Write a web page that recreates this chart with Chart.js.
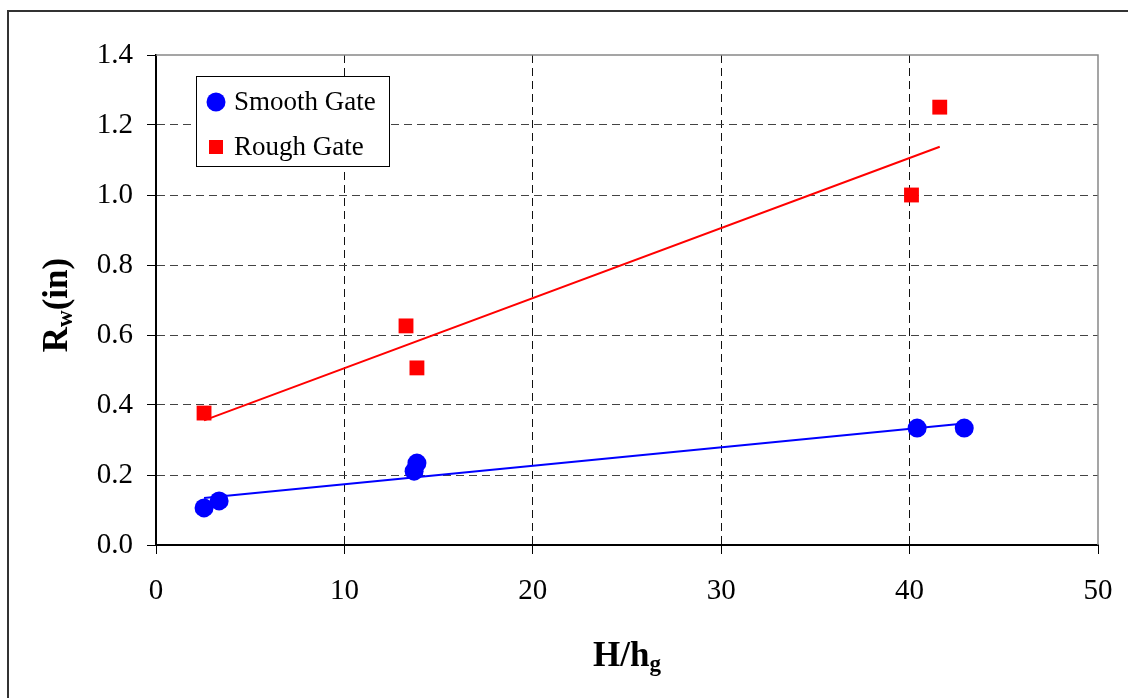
<!DOCTYPE html>
<html>
<head>
<meta charset="utf-8">
<script src="https://cdn.jsdelivr.net/npm/chart.js@4.4.1/dist/chart.umd.min.js"></script>
<style>
  html, body { margin: 0; padding: 0; background: #fff; }
  #wrap { width: 1128px; height: 698px; }
</style>
</head>
<body>
<div id="wrap"><canvas id="chart" width="1128" height="698"></canvas></div>
<script>
// Smooth gate measurements (H/hg, Rw in inches)
const smoothX = [2.55, 3.35, 13.7, 13.85, 40.4, 42.9];
const smoothY = [0.106, 0.126, 0.211, 0.234, 0.334, 0.334];

// Rough gate measurements
const roughX = [2.55, 13.27, 13.85, 40.1, 41.6];
const roughY = [0.377, 0.626, 0.506, 1.0, 1.251];

// Linear trend lines (end points)
const smoothTrendX = [2.55, 42.9];
const smoothTrendY = [0.134, 0.347];
const roughTrendX = [2.55, 41.6];
const roughTrendY = [0.356, 1.138];

// Axis ticks
const xTicks = [0, 10, 20, 30, 40, 50];
const yTicks = [0.0, 0.2, 0.4, 0.6, 0.8, 1.0, 1.2, 1.4];

const legendItems = [
    { label: 'Smooth Gate', color: '#0000ff', shape: 'circle' },
    { label: 'Rough Gate', color: '#ff0000', shape: 'square' }
];

const SERIF = '"Liberation Serif", "Times New Roman", serif';

function toPoints(xs, ys) {
    return xs.map((x, i) => ({ x: x, y: ys[i] }));
}

// outer frame + plot area border (top/right in grey)
const framePlugin = {
    id: 'frame',
    beforeDraw(chart) {
        const ctx = chart.ctx;
        ctx.save();
        ctx.fillStyle = '#fff';
        ctx.fillRect(0, 0, chart.width, chart.height);
        ctx.strokeStyle = '#333';
        ctx.lineWidth = 2;
        ctx.strokeRect(8, 11, chart.width + 20, chart.height + 20);
        ctx.restore();
    },
    beforeDatasetsDraw(chart) {
        const { ctx, chartArea: a } = chart;
        ctx.save();
        ctx.strokeStyle = '#888';
        ctx.lineWidth = 1.5;
        ctx.beginPath();
        ctx.moveTo(a.left, a.top);
        ctx.lineTo(a.right, a.top);
        ctx.lineTo(a.right, a.bottom);
        ctx.stroke();
        ctx.restore();
    }
};

// axis titles with subscripts and the boxed legend
const labelPlugin = {
    id: 'labels',
    afterDraw(chart) {
        const { ctx, chartArea: a } = chart;
        ctx.save();
        ctx.fillStyle = '#000';
        ctx.textBaseline = 'alphabetic';
        ctx.textAlign = 'left';

        const big = 'bold 35px ' + SERIF;
        const small = 'bold 23px ' + SERIF;

        // x title: H/h with subscript g
        ctx.font = big;
        const w1 = ctx.measureText('H/h').width;
        ctx.font = small;
        const w2 = ctx.measureText('g').width;
        let x0 = (a.left + a.right) / 2 - (w1 + w2) / 2;
        ctx.font = big;
        ctx.fillText('H/h', x0, 666);
        ctx.font = small;
        ctx.fillText('g', x0 + w1, 671);

        // y title: R with subscript w, then (in)
        ctx.save();
        ctx.translate(67, 305);
        ctx.rotate(-Math.PI / 2);
        ctx.font = big;
        const r = ctx.measureText('R').width;
        const tail = ctx.measureText('(in)').width;
        ctx.font = small;
        const sw = ctx.measureText('w').width;
        const total = r + sw + tail;
        let t = -total / 2;
        ctx.font = big;
        ctx.fillText('R', t, 0);
        ctx.font = small;
        ctx.fillText('w', t + r, 5);
        ctx.font = big;
        ctx.fillText('(in)', t + r + sw, 0);
        ctx.restore();

        // legend
        const lx = 196, ly = 76, lw = 193, lh = 90;
        ctx.fillStyle = '#fff';
        ctx.fillRect(lx, ly, lw, lh);
        ctx.strokeStyle = '#000';
        ctx.lineWidth = 1;
        ctx.strokeRect(lx + 0.5, ly + 0.5, lw, lh);
        ctx.font = '27px ' + SERIF;
        ctx.textBaseline = 'middle';
        legendItems.forEach((item, i) => {
            const cy = 102 + i * 45;
            ctx.fillStyle = item.color;
            if (item.shape === 'circle') {
                ctx.beginPath();
                ctx.arc(216, cy, 9.5, 0, Math.PI * 2);
                ctx.fill();
            } else {
                ctx.fillRect(209, cy - 7, 14, 14);
            }
            ctx.fillStyle = '#000';
            ctx.fillText(item.label, 234, cy + 1);
        });
        ctx.restore();
    }
};

const ctx = document.getElementById('chart');
new Chart(ctx, {
    type: 'scatter',
    data: {
        datasets: [
            {
                label: 'Smooth Gate',
                data: toPoints(smoothX, smoothY),
                pointStyle: 'circle',
                pointRadius: 9.5,
                backgroundColor: '#0000ff',
                borderColor: '#0000ff',
                borderWidth: 0
            },
            {
                label: 'Rough Gate',
                data: toPoints(roughX, roughY),
                pointStyle: 'rect',
                pointRadius: 10.5,
                backgroundColor: '#ff0000',
                borderColor: '#ff0000',
                borderWidth: 0
            },
            {
                label: 'Smooth trend',
                data: toPoints(smoothTrendX, smoothTrendY),
                showLine: true,
                pointRadius: 0,
                borderColor: '#0000ff',
                borderWidth: 2
            },
            {
                label: 'Rough trend',
                data: toPoints(roughTrendX, roughTrendY),
                showLine: true,
                pointRadius: 0,
                borderColor: '#ff0000',
                borderWidth: 2
            }
        ]
    },
    options: {
        responsive: false,
        animation: false,
        events: [],
        layout: {
            padding: { left: 0, top: 55, right: 30, bottom: 0 }
        },
        plugins: {
            legend: { display: false },
            tooltip: { enabled: false }
        },
        scales: {
            x: {
                type: 'linear',
                min: 0,
                max: 50,
                afterBuildTicks: s => { s.ticks = xTicks.map(v => ({ value: v })); },
                afterFit: s => {
                    s.height = 698 - 545;
                    s.paddingLeft = 0;
                    s.paddingRight = 0;
                },
                grid: {
                    color: c => (c.tick && (c.tick.value === 0 || c.tick.value === 50)) ? 'rgba(0,0,0,0)' : '#111',
                    tickColor: '#000',
                    tickLength: 9,
                    lineWidth: 1
                },
                border: { display: true, color: '#000', width: 2, dash: [8, 5] },
                ticks: {
                    color: '#000',
                    font: { family: SERIF, size: 29 },
                    padding: 20,
                    maxRotation: 0
                }
            },
            y: {
                type: 'linear',
                min: 0,
                max: 1.4,
                afterBuildTicks: s => { s.ticks = yTicks.map(v => ({ value: v })); },
                afterFit: s => {
                    s.width = 156;
                    s.paddingTop = 0;
                    s.paddingBottom = 0;
                },
                grid: {
                    color: c => (c.tick && (c.tick.value === 0 || c.tick.value === 1.4)) ? 'rgba(0,0,0,0)' : '#444',
                    tickColor: '#000',
                    tickLength: 9,
                    lineWidth: 1
                },
                border: { display: true, color: '#000', width: 2, dash: [8, 5] },
                ticks: {
                    color: '#000',
                    font: { family: SERIF, size: 29 },
                    padding: 14,
                    callback: v => Number(v).toFixed(1)
                }
            }
        }
    },
    plugins: [framePlugin, labelPlugin]
});
</script>
</body>
</html>
